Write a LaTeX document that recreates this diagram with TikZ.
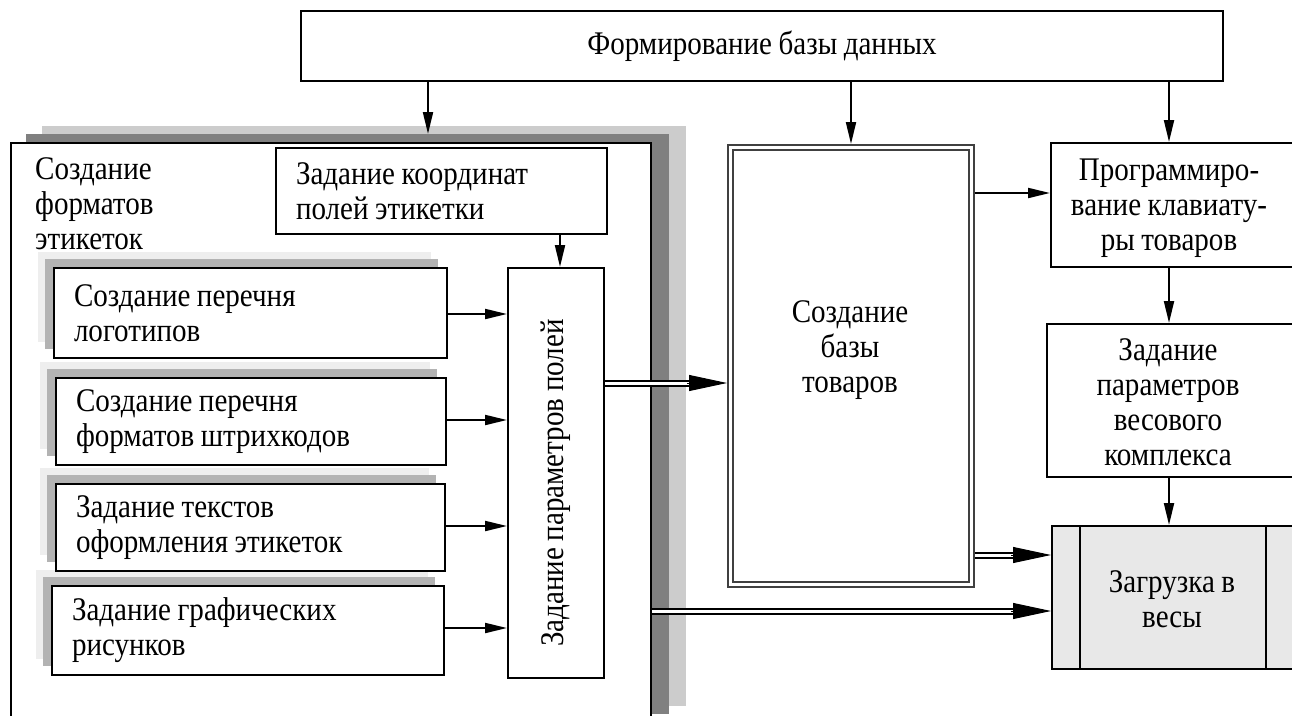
\documentclass[tikz,border=0pt]{standalone}
\usepackage{fontspec}
\setmainfont{Liberation Serif}[FakeStretch=0.88,WordSpace=0.9]
\usetikzlibrary{arrows.meta,calc}
\definecolor{shdark}{HTML}{808080}
\definecolor{shlight}{HTML}{CCCCCC}
\definecolor{sbdark}{HTML}{B3B3B3}
\definecolor{sblight}{HTML}{EEEEEE}
\definecolor{dblcol}{HTML}{404040}
\definecolor{zfill}{HTML}{E8E8E8}
\begin{document}
\begin{tikzpicture}[x=1pt,y=-1pt,
  every node/.style={font=\fontsize{33}{35}\selectfont},
  box/.style={draw=black,line width=2pt,fill=white,inner sep=0pt,anchor=north west},
  lbox/.style={box,align=flush left,inner xsep=20pt,text width=#1-40pt,minimum width=#1},
  cbox/.style={box,align=center,minimum width=#1},
  arr/.style={line width=2pt,-{Triangle[length=22pt,width=10pt]}},
  dline/.style={double,double distance=3pt,line width=2pt,shorten >=30pt},
  dtip/.style={line width=1pt,-{Triangle[length=38pt,width=16pt]}}
]
\useasboundingbox (0,0) rectangle (1292,715);
\clip (0,0) rectangle (1292,715);

% top box
\node[cbox=922, minimum height=70] (top) at (300,10) {Формирование базы данных};

% big box with shadows
\node[box, minimum width=640, minimum height=578] (big) at (10,142) {};
\fill[shlight] ($(big.north west)+(32,-16)$) rectangle ($(big.south east)+(34,-16)$);
\fill[shdark]  ($(big.north west)+(16,-8)$) rectangle ($(big.south east)+(17,-8)$);
\node[box, minimum width=640, minimum height=578] (bigf) at (10,142) {};
\coordinate (a1) at (428,134);

\node[anchor=north west, align=flush left, inner sep=0pt] (lbl) at (35,157) {Создание\\форматов\\этикеток};

\node[lbox=331, minimum height=86] (coord) at (275,147) {Задание координат\\полей этикетки};

% small boxes
\foreach \n/\x/\y/\w/\h in {b1/53/267/393/90, b2/55/377/390/87, b3/55/483/389/87, b4/51/585/392/89}{
  \fill[sblight] (\x-15,\y-15) rectangle (\x+\w-15,\y+\h-15);
  \fill[sbdark] (\x-8,\y-8) rectangle (\x+\w-8,\y+\h-8);
}
\node[lbox=393, minimum height=90] (b1) at (53,267) {Создание перечня\\логотипов};
\node[lbox=390, minimum height=87] (b2) at (55,377) {Создание перечня\\форматов штрихкодов};
\node[lbox=389, minimum height=87] (b3) at (55,483) {Задание текстов\\оформления этикеток};
\node[lbox=392, minimum height=89] (b4) at (51,585) {Задание графических\\рисунков};

% parameter box
\node[box, minimum width=96, minimum height=410] (pp) at (507,267) {};
\node[rotate=90, inner sep=0pt] (pptext) at ($(pp.center)+(0,10)$) {Задание параметров полей};

% double box
\node[box, draw=dblcol, minimum width=246, minimum height=442] (db) at (727,144) {};
\draw[dblcol, line width=2pt] ($(db.north west)+(6,6)$) rectangle ($(db.south east)+(-6,-6)$);
\node[align=center] (dbtext) at (850,350) {Создание\\базы\\товаров};

% right boxes
\coordinate (rx) at (1169,0);
\node[box, minimum width=262, minimum height=124] (prog) at (1050,142) {};
\node[align=center] (progtext) at (1169,208) {Программиро-\\вание клавиату-\\ры товаров};
\node[box, minimum width=266, minimum height=153] (zad) at (1046,323) {};
\node[align=center] (zadtext) at (1168,402) {Задание\\параметров\\весового\\комплекса};
\node[box, minimum width=261, minimum height=143, fill=zfill] (zg) at (1051,525) {};
\node[align=center] (zgtext) at (1172,599) {Загрузка в\\весы};
\draw[line width=2pt] ($(zg.north west)+(29,0)$) -- ($(zg.south west)+(29,0)$);
\draw[line width=2pt] ($(zg.north west)+(215,0)$) -- ($(zg.south west)+(215,0)$);

% arrows
\draw[arr] (top.south -| a1) -- (a1);
\draw[arr] (top.south -| db.north) -- (db.north);
\draw[arr] (top.south -| rx) -- (prog.north -| rx);
\coordinate (cc) at (560,0);
\draw[arr] (coord.south -| cc) -- (pp.north -| cc);
\foreach \b/\yy in {b1/314, b2/420, b3/526, b4/628}{
  \coordinate (t\b) at (0,\yy);
  \draw[arr] (\b.east |- t\b) -- (pp.west |- t\b);
}
\coordinate (r1) at (0,193);
\draw[arr] (db.east |- r1) -- (prog.west |- r1);
\draw[arr] (prog.south -| rx) -- (zad.north -| rx);
\draw[arr] (zad.south -| rx) -- (zg.north -| rx);

% double arrows
\coordinate (m1) at (0,383);
\coordinate (m2) at (0,555);
\coordinate (m3) at (0,611);
\draw[dline] (pp.east |- m1) -- (db.west |- m1);
\draw[dtip] ($(db.west |- m1)+(-40,0)$) -- (db.west |- m1);
\draw[dline] (db.east |- m2) -- (zg.west |- m2);
\draw[dtip] ($(zg.west |- m2)+(-40,0)$) -- (zg.west |- m2);
\draw[dline] (big.east |- m3) -- (zg.west |- m3);
\draw[dtip] ($(zg.west |- m3)+(-40,0)$) -- (zg.west |- m3);
\end{tikzpicture}
\end{document}
